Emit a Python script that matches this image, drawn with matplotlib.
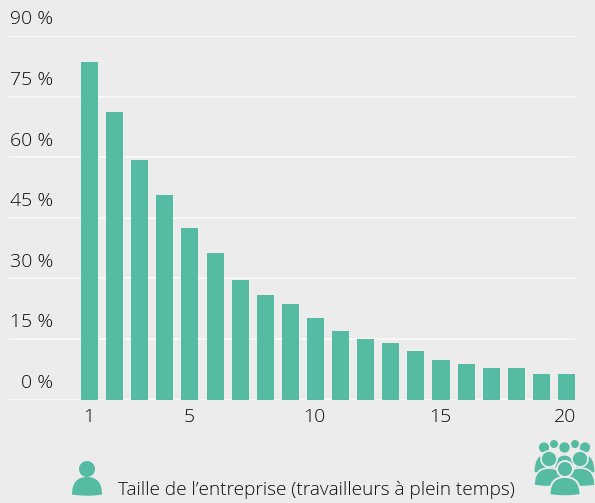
import matplotlib
matplotlib.use("Agg")
from matplotlib import pyplot as plt
from matplotlib.patches import Circle, PathPatch
from matplotlib.path import Path

sizes = list(range(1, 21))
shares = [83.6, 71.2, 59.3, 50.6, 42.4, 36.2, 29.5, 25.8, 23.6, 20.1,
          16.9, 15.1, 14.1, 11.9, 9.9, 8.9, 7.9, 7.7, 6.2, 6.2]
yticks = [0, 15, 30, 45, 60, 75, 90]
xticks = [1, 5, 10, 15, 20]
xlabel = "Taille de l\u2019entreprise (travailleurs à plein temps)"

bg = "#ececec"
green = "#55bba2"
txt = "#0c0c0c"

W, H = 595, 503
plt.rcParams["font.family"] = ["Open Sans", "DejaVu Sans"]

fig = plt.figure(figsize=(W / 100, H / 100), dpi=100, facecolor=bg)
ax = fig.add_axes([9 / W, 1 - 399.5 / H, (575.5 - 9) / W, (399.5 - 36) / H])
ax.set_facecolor(bg)
ax.bar(sizes, shares, width=0.68, color=green, zorder=3)
ax.set_xlim(1 - 80.5 / 25.1, 20 + 9 / 25.1)
ax.set_ylim(0, 90)
for s in ax.spines.values():
    s.set_visible(False)
ax.set_yticks(yticks)
ax.set_yticklabels([])
ax.set_xticks(xticks)
ax.set_xticklabels([])
ax.tick_params(length=0)
ax.grid(axis="y", color="#f8f8f8", lw=1.4, zorder=1)
ax.set_axisbelow(True)

# y labels sit above the grid lines, at the left edge
for v in yticks:
    ax.annotate("%d %%" % v, (0, v), xycoords=("axes fraction", "data"),
                xytext=(44, 7.5), textcoords="offset pixels", ha="right", va="bottom",
                fontsize=14, color=txt, fontweight=300)
for v in xticks:
    ax.annotate(str(v), (v, 0), xycoords=("data", "axes fraction"),
                xytext=(-1, -8), textcoords="offset pixels", ha="center", va="top",
                fontsize=14, color=txt, fontweight=300)

# overlay in pixel coordinates for caption and icons
ov = fig.add_axes([0, 0, 1, 1], facecolor="none")
ov.set_xlim(0, W)
ov.set_ylim(H, 0)
ov.axis("off")
ov.text(118, 490, xlabel, fontsize=13.7, color=txt, ha="left", va="center", fontweight=300)


def person(cx, cy, r, half, top, bottom, edge="none", lw=0):
    # dome shaped shoulders with a slightly curved foot, then the head
    verts = [(cx - half, bottom - 1.5),
             (cx - half, top), (cx, top),
             (cx + half, top), (cx + half, bottom - 1.5),
             (cx, bottom + 1), (cx - half, bottom - 1.5),
             (cx - half, bottom - 1.5)]
    codes = [Path.MOVETO, Path.CURVE3, Path.CURVE3, Path.CURVE3, Path.CURVE3,
             Path.CURVE3, Path.CURVE3, Path.CLOSEPOLY]
    ov.add_patch(PathPatch(Path(verts, codes), fc=green, ec=edge, lw=lw))
    ov.add_patch(Circle((cx, cy), r, fc=green, ec=edge, lw=lw))


person(87, 469, 8, 15, 477, 496)

# crowd icon, back row first
for cx in (554, 575):
    ov.add_patch(Circle((cx, 444), 4, fc=green, ec="none"))
for cx, half in [(544, 10), (564.5, 10), (585, 10)]:
    person(cx, 447.5, 5.7, half, 455, 474, edge=bg, lw=0.8)
person(549, 459, 8, 15, 468, 487, edge=bg, lw=1.2)
person(580, 459, 8, 15, 468, 487, edge=bg, lw=1.2)
person(565, 469, 8, 15.5, 477, 496.5, edge=bg, lw=1.4)

fig.savefig("out.png", dpi=100, facecolor=bg)
